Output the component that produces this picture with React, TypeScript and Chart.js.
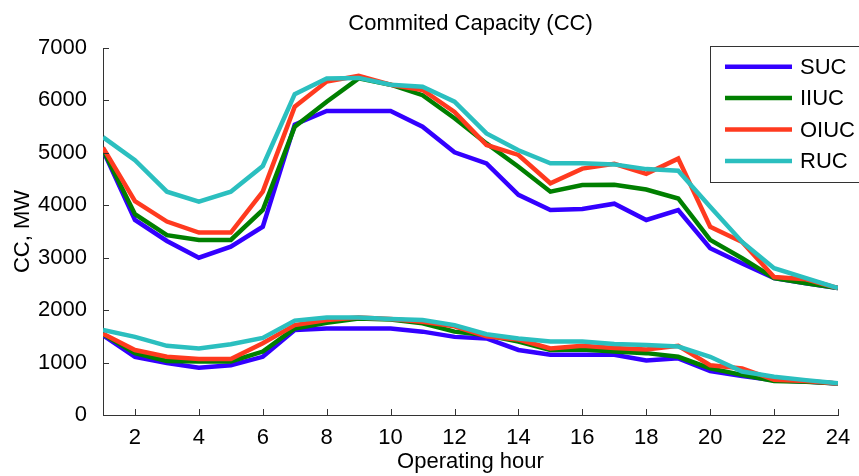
import React, { useEffect, useRef } from "react";
import { Chart, registerables } from "chart.js";

Chart.register(...registerables);

const HOURS = [1, 2, 3, 4, 5, 6, 7, 8, 9, 10, 11, 12, 13, 14, 15, 16, 17, 18, 19, 20, 21, 22, 23, 24];
const X_TICKS = [2, 4, 6, 8, 10, 12, 14, 16, 18, 20, 22, 24];
const Y_TICKS = [0, 1000, 2000, 3000, 4000, 5000, 6000, 7000];

const SERIES_NAMES = ["SUC", "IIUC", "OIUC", "RUC"];
const SERIES_COLORS = ["#3300ff", "#007f00", "#ff3a1f", "#2bbfbf"];

// Upper group of curves
const SUC_HIGH = [5050, 3720, 3320, 3000, 3210, 3590, 5540, 5800, 5800, 5800, 5500, 5010, 4800, 4200, 3910, 3930, 4030, 3720, 3910, 3180, 2890, 2610, 2510, 2420];
const IIUC_HIGH = [5060, 3830, 3430, 3340, 3340, 3910, 5500, 5975, 6420, 6300, 6100, 5660, 5180, 4735, 4260, 4385, 4390, 4300, 4130, 3340, 2990, 2610, 2510, 2420];
const OIUC_HIGH = [5100, 4080, 3690, 3480, 3480, 4260, 5880, 6360, 6470, 6300, 6200, 5780, 5150, 4960, 4420, 4700, 4790, 4600, 4890, 3590, 3300, 2630, 2590, 2420];
const RUC_HIGH = [5300, 4860, 4260, 4070, 4260, 4750, 6120, 6420, 6430, 6300, 6260, 5975, 5370, 5050, 4800, 4800, 4780, 4690, 4660, 3970, 3300, 2800, 2610, 2420];

// Lower group of curves
const SUC_LOW = [1520, 1110, 990, 900, 950, 1110, 1620, 1650, 1650, 1650, 1590, 1490, 1460, 1240, 1150, 1150, 1150, 1040, 1080, 840, 745, 665, 640, 600];
const IIUC_LOW = [1540, 1180, 1030, 1020, 1020, 1210, 1650, 1760, 1840, 1820, 1750, 1590, 1520, 1400, 1240, 1250, 1210, 1180, 1110, 890, 765, 650, 635, 600];
const OIUC_LOW = [1550, 1240, 1110, 1070, 1070, 1370, 1715, 1810, 1860, 1830, 1780, 1690, 1500, 1440, 1270, 1320, 1280, 1250, 1320, 950, 890, 670, 650, 600];
const RUC_LOW = [1620, 1490, 1320, 1270, 1350, 1470, 1800, 1860, 1860, 1830, 1810, 1715, 1540, 1460, 1400, 1400, 1355, 1335, 1305, 1110, 830, 730, 665, 605];

const HIGH_SERIES = [SUC_HIGH, IIUC_HIGH, OIUC_HIGH, RUC_HIGH];
const LOW_SERIES = [SUC_LOW, IIUC_LOW, OIUC_LOW, RUC_LOW];

const TITLE = "Commited Capacity (CC)";
const X_TITLE = "Operating hour";
const Y_TITLE = "CC, MW";

const FONT_FAMILY = "'Liberation Sans', Arial, Helvetica, sans-serif";
const AXIS_COLOR = "#333333";

const toPoints = (vals: number[]) => HOURS.map((h, i) => ({ x: h, y: vals[i] }));

const tickMarks = {
  id: "tickMarks",
  afterDatasetsDraw(chart: any) {
    const { ctx, chartArea, scales } = chart;
    const xs = scales.x;
    const ys = scales.y;
    ctx.save();
    ctx.strokeStyle = AXIS_COLOR;
    ctx.lineWidth = 1;
    ctx.beginPath();
    ys.ticks.forEach((t: any) => {
      const py = Math.round(ys.getPixelForValue(t.value)) + 0.5;
      ctx.moveTo(chartArea.left, py);
      ctx.lineTo(chartArea.left + 6, py);
    });
    xs.ticks.forEach((t: any) => {
      const px = Math.round(xs.getPixelForValue(t.value)) + 0.5;
      ctx.moveTo(px, chartArea.bottom);
      ctx.lineTo(px, chartArea.bottom - 6);
    });
    ctx.stroke();
    ctx.restore();
  },
};

const legendBox = {
  id: "legendBox",
  afterDraw(chart: any) {
    const { ctx, chartArea } = chart;
    const entries = chart.data.datasets.filter((d: any) => d.inLegend);
    const rowH = 31.4;
    const boxLeft = chartArea.right - 128;
    const boxTop = chartArea.top - 2;
    const boxH = 20.7 * 2 + rowH * (entries.length - 1);
    ctx.save();
    ctx.fillStyle = "#ffffff";
    ctx.fillRect(boxLeft, boxTop, 200, boxH);
    ctx.strokeStyle = AXIS_COLOR;
    ctx.lineWidth = 1;
    ctx.strokeRect(Math.round(boxLeft) + 0.5, Math.round(boxTop) + 0.5, 200, Math.round(boxH));
    entries.forEach((d: any, i: number) => {
      const y = boxTop + 20.7 + i * rowH;
      ctx.strokeStyle = d.borderColor;
      ctx.lineWidth = d.borderWidth;
      ctx.beginPath();
      ctx.moveTo(boxLeft + 15, y);
      ctx.lineTo(boxLeft + 82, y);
      ctx.stroke();
      ctx.fillStyle = "#000000";
      ctx.font = `22px ${FONT_FAMILY}`;
      ctx.textBaseline = "middle";
      ctx.textAlign = "left";
      ctx.fillText(d.label, boxLeft + 90, y + 1);
    });
    ctx.restore();
  },
};

export default function App() {
  const canvasRef = useRef<HTMLCanvasElement | null>(null);

  useEffect(() => {
    if (!canvasRef.current) return;
    const orders = [3, 2, 1, 0];
    const datasets: any[] = [];
    SERIES_NAMES.forEach((name, i) => {
      datasets.push({
        label: name,
        inLegend: true,
        data: toPoints(HIGH_SERIES[i]),
        borderColor: SERIES_COLORS[i],
        backgroundColor: SERIES_COLORS[i],
        borderWidth: 4.5,
        pointRadius: 0,
        tension: 0,
        fill: false,
        order: orders[i],
      });
    });
    SERIES_NAMES.forEach((name, i) => {
      datasets.push({
        label: name + " (low)",
        inLegend: false,
        data: toPoints(LOW_SERIES[i]),
        borderColor: SERIES_COLORS[i],
        backgroundColor: SERIES_COLORS[i],
        borderWidth: 4.5,
        pointRadius: 0,
        tension: 0,
        fill: false,
        order: orders[i],
      });
    });

    const chart = new Chart(canvasRef.current, {
      type: "line",
      data: { datasets },
      options: {
        animation: false,
        responsive: false,
        devicePixelRatio: 1,
        layout: { padding: { left: 0, right: 21, top: 0, bottom: 0 } },
        plugins: {
          legend: { display: false },
          tooltip: { enabled: false },
          title: {
            display: true,
            text: TITLE,
            fullSize: false,
            color: "#000000",
            font: { family: FONT_FAMILY, size: 22, weight: "normal" as any },
            padding: { top: 11, bottom: 10.6 },
          },
        },
        scales: {
          x: {
            type: "linear",
            min: 1,
            max: 24,
            afterBuildTicks: (scale: any) => {
              scale.ticks = X_TICKS.map((v) => ({ value: v }));
            },
            afterFit: (scale: any) => {
              scale.height = 61;
            },
            grid: { display: false },
            border: { display: true, color: AXIS_COLOR, width: 1 },
            ticks: {
              color: "#000000",
              font: { family: FONT_FAMILY, size: 22 },
              padding: 2,
              maxRotation: 0,
              autoSkip: false,
              callback: (v: any) => String(v),
            },
            title: {
              display: true,
              text: X_TITLE,
              color: "#000000",
              font: { family: FONT_FAMILY, size: 22 },
              padding: { top: 0, bottom: 1 },
            },
          },
          y: {
            type: "linear",
            min: 0,
            max: 7000,
            afterBuildTicks: (scale: any) => {
              scale.ticks = Y_TICKS.map((v) => ({ value: v }));
            },
            afterFit: (scale: any) => {
              scale.width = 103;
            },
            grid: { display: false },
            border: { display: true, color: AXIS_COLOR, width: 1 },
            ticks: {
              color: "#000000",
              font: { family: FONT_FAMILY, size: 22 },
              padding: 8,
              autoSkip: false,
              callback: (v: any) => String(v),
            },
            title: {
              display: true,
              text: Y_TITLE,
              color: "#000000",
              font: { family: FONT_FAMILY, size: 22 },
              padding: { top: 10, bottom: 0 },
            },
          },
        },
      } as any,
      plugins: [tickMarks, legendBox],
    });
    return () => chart.destroy();
  }, []);

  return (
    <div style={{ position: "absolute", left: 0, top: 0, width: 859, height: 476, background: "#ffffff" }}>
      <canvas ref={canvasRef} width={859} height={476} style={{ display: "block" }} />
    </div>
  );
}
